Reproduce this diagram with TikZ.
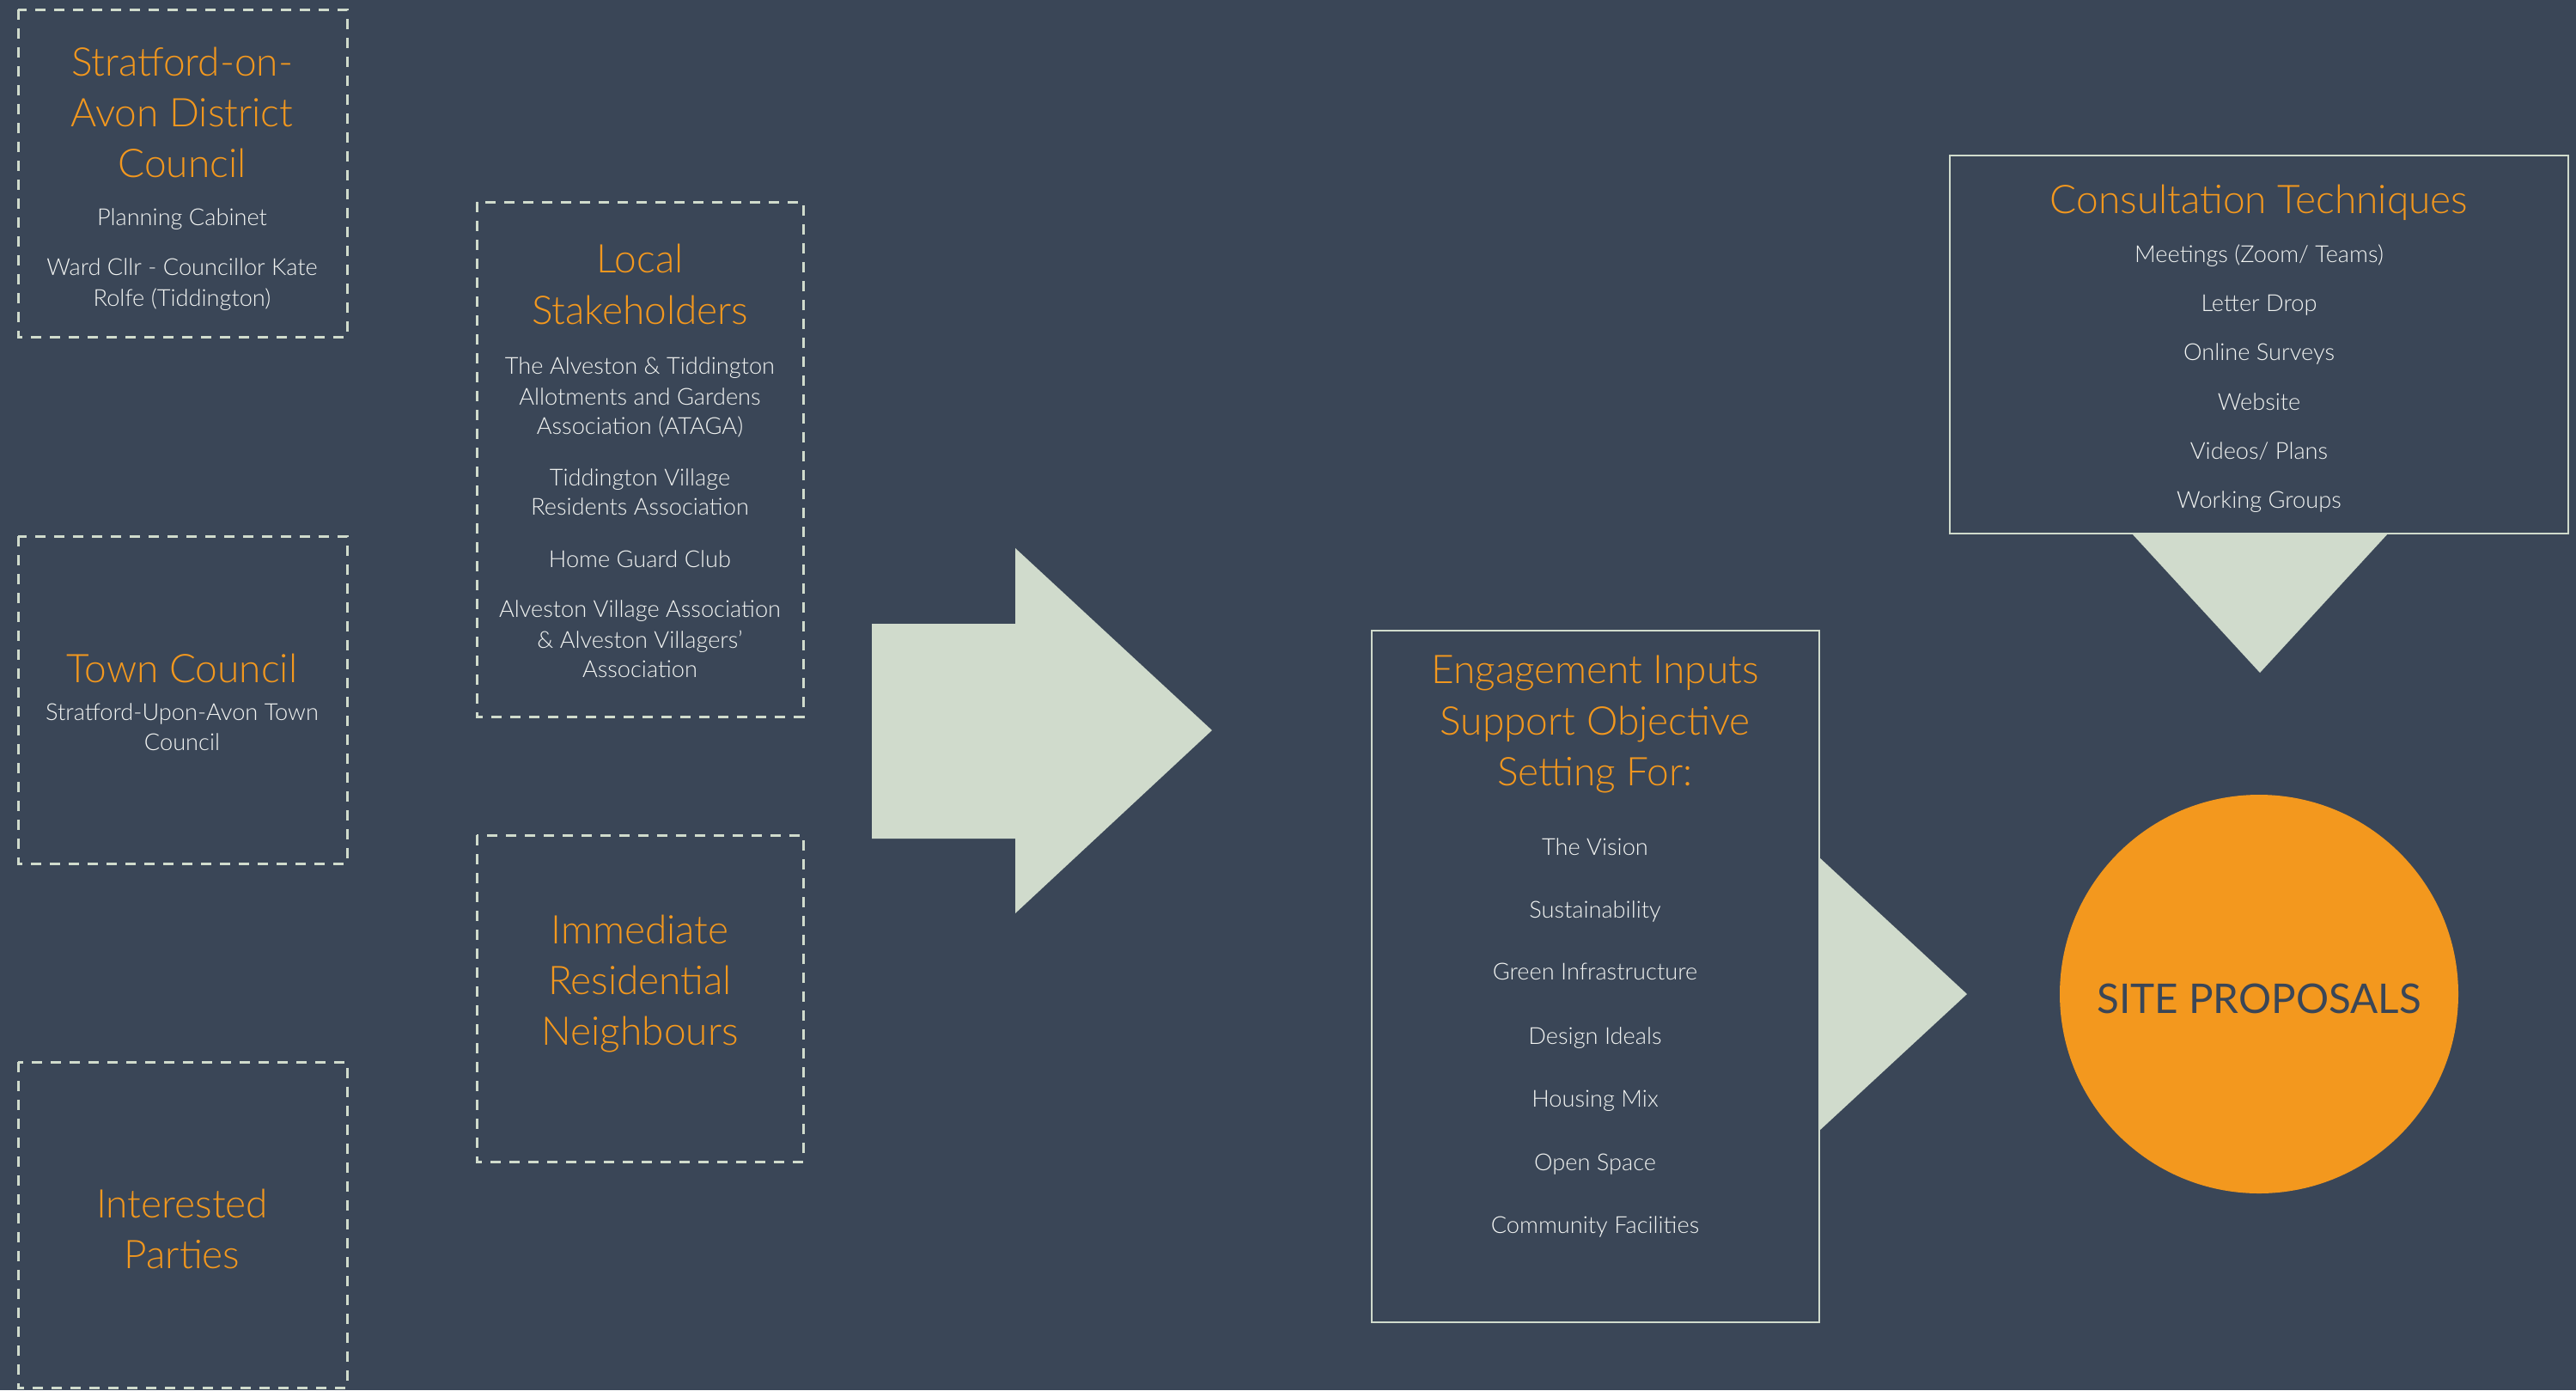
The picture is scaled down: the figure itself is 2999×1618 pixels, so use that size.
\documentclass[tikz,border=0pt]{standalone}
\usepackage{fontspec}
\IfFontExistsTF{Lato Light}{\setmainfont{Lato Light}}{\setmainfont{Lato}}
\newfontfamily\regfont{Lato}
\definecolor{bg}{RGB}{58,70,87}
\definecolor{orng}{RGB}{243,152,30}
\definecolor{lgreen}{RGB}{208,219,204}
\definecolor{wtxt}{RGB}{242,244,242}
\begin{document}
\begin{tikzpicture}[x=0.5pt,y=-0.5pt,
  dbox/.style={draw=lgreen, line width=1.5pt, dash pattern=on 6pt off 5pt},
  sbox/.style={draw=lgreen, line width=1.2pt},
  ttl/.style={text=orng, font=\fontsize{23}{28}\selectfont, anchor=base, inner sep=0pt},
  itm/.style={text=wtxt, font=\fontsize{13.6}{17}\selectfont, anchor=base, inner sep=0pt},
  blockfill/.style={fill=lgreen}
]
\fill[bg] (0,0) rectangle (2999,1618);

% ---------- Stratford-on-Avon District Council
\draw[dbox] (21,11) rectangle (404,392);
\node[ttl] (sdc1) at (212,88) {Stratford-on-};
\node[ttl] (sdc2) at (212,147) {Avon District};
\node[ttl] (sdc3) at (212,206) {Council};
\node[itm] (sdc4) at (212,262) {Planning Cabinet};
\node[itm] (sdc5) at (212,320) {Ward Cllr - Councillor Kate};
\node[itm] (sdc6) at (212,356) {Rolfe (Tiddington)};

% ---------- Town Council
\draw[dbox] (21,624) rectangle (404,1005);
\node[ttl] (tc1) at (212,794) {Town Council};
\node[itm] (tc2) at (212,838) {Stratford-Upon-Avon Town};
\node[itm] (tc3) at (212,873) {Council};

% ---------- Interested Parties
\draw[dbox] (21,1236) rectangle (404,1615);
\node[ttl] (ip1) at (212,1417) {Interested};
\node[ttl] (ip2) at (212,1476) {Parties};

% ---------- Local Stakeholders
\draw[dbox] (555,235) rectangle (935,834);
\node[ttl] (ls1) at (745,317) {Local};
\node[ttl] (ls2) at (745,377) {Stakeholders};
\node[itm] (ls3) at (745,435) {The Alveston \& Tiddington};
\node[itm] (ls4) at (745,471) {Allotments and Gardens};
\node[itm] (ls5) at (745,505) {Association (ATAGA)};
\node[itm] (ls6) at (745,565) {Tiddington Village};
\node[itm] (ls7) at (745,599) {Residents Association};
\node[itm] (ls8) at (745,660) {Home Guard Club};
\node[itm] (ls9) at (745,718) {Alveston Village Association};
\node[itm] (ls10) at (745,754) {\& Alveston Villagers’};
\node[itm] (ls11) at (745,788) {Association};

% ---------- Immediate Residential Neighbours
\draw[dbox] (555,972) rectangle (935,1352);
\node[ttl] (ir1) at (745,1098) {Immediate};
\node[ttl] (ir2) at (745,1157) {Residential};
\node[ttl] (ir3) at (745,1216) {Neighbours};

% ---------- big arrow
\fill[blockfill] (1015,726) -- (1182,726) -- (1182,638) -- (1411,850)
  -- (1182,1063) -- (1182,976) -- (1015,976) -- cycle;

% ---------- Engagement box
\fill[blockfill] (2117,997) -- (2290,1157) -- (2117,1317) -- cycle;
\draw[sbox] (1597,734) rectangle (2118,1539);
\node[ttl] (en1) at (1857,795) {Engagement Inputs};
\node[ttl] (en2) at (1857,855) {Support Objective};
\node[ttl] (en3) at (1857,914) {Setting For:};
\node[itm] (en4) at (1857,995) {The Vision};
\node[itm] (en5) at (1857,1068) {Sustainability};
\node[itm] (en6) at (1857,1140) {Green Infrastructure};
\node[itm] (en7) at (1857,1215) {Design Ideals};
\node[itm] (en8) at (1857,1288) {Housing Mix};
\node[itm] (en9) at (1857,1362) {Open Space};
\node[itm] (en10) at (1857,1435) {Community Facilities};

% ---------- Consultation Techniques
\fill[blockfill] (2481,620) -- (2781,620) -- (2631,783) -- cycle;
\draw[sbox] (2270,181) rectangle (2990,621);
\node[ttl] (ct1) at (2630,248) {Consultation Techniques};
\node[itm] (ct2) at (2630,305) {Meetings (Zoom/ Teams)};
\node[itm] (ct3) at (2630,362) {Letter Drop};
\node[itm] (ct4) at (2630,419) {Online Surveys};
\node[itm] (ct5) at (2630,477) {Website};
\node[itm] (ct6) at (2630,534) {Videos/ Plans};
\node[itm] (ct7) at (2630,591) {Working Groups};

% ---------- Site proposals
\node[circle, fill=orng, minimum size=232pt, inner sep=0pt] (site) at (2630,1157) {};
\node[text=bg, font=\regfont\fontsize{23.8}{28}\selectfont, anchor=base, inner sep=0pt] (sitet) at (2630,1179) {SITE PROPOSALS};
\end{tikzpicture}
\end{document}
